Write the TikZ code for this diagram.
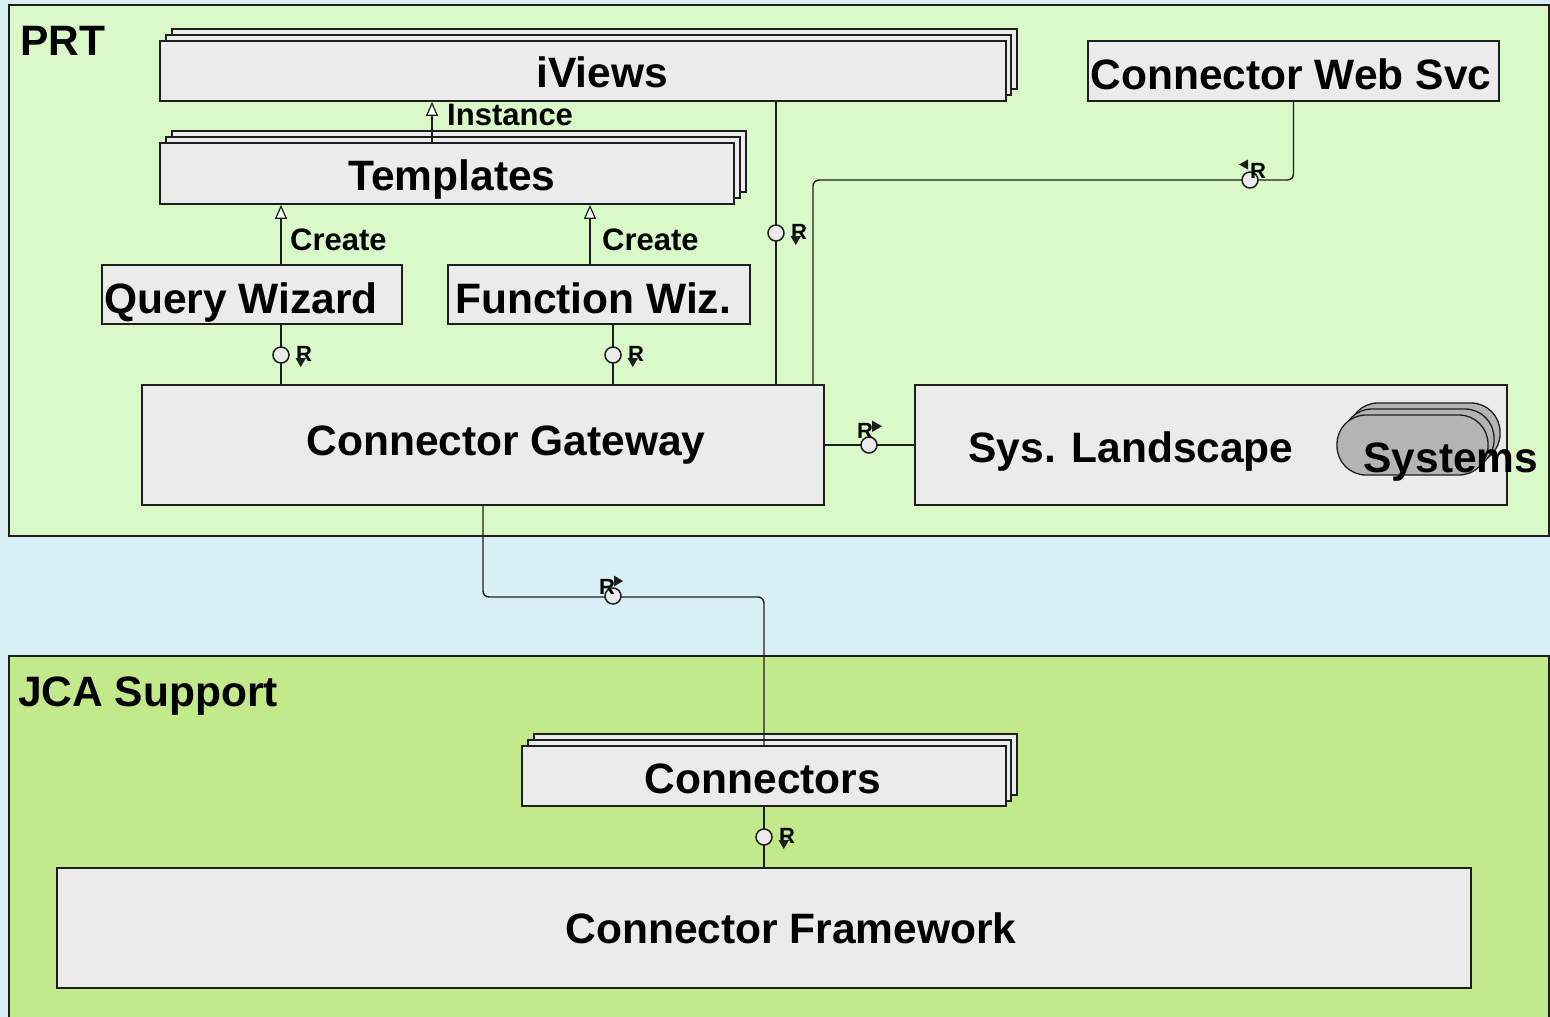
\documentclass[tikz,border=0pt]{standalone}
\usepackage{fontspec}
\setmainfont{Liberation Sans}
\usetikzlibrary{arrows.meta,calc}
\definecolor{bgblue}{RGB}{216,240,245}
\definecolor{prtgreen}{RGB}{217,249,201}
\definecolor{jcagreen}{RGB}{194,234,138}
\definecolor{boxgray}{RGB}{235,235,235}
\definecolor{sysgray}{RGB}{180,180,180}
\definecolor{edgec}{RGB}{30,30,30}
\newcommand{\rdown}[3]{%
  \node[rlab] (#1) at (#2+23,#3-1) {R};
  \fill[edgec] (#2+14.5,#3+3) -- (#2+25,#3+3) -- (#2+19.75,#3+12) -- cycle;}
\begin{document}
\begin{tikzpicture}[x=1pt,y=-1pt,
  panel/.style={draw=edgec, line width=1.3pt},
  box/.style={draw=edgec, line width=1.8pt, fill=boxgray, rectangle, inner sep=0pt},
  sysbox/.style={draw=edgec, line width=1.3pt, fill=sysgray, rounded corners=29pt},
  big/.style={font=\fontsize{42.5}{48}\selectfont\bfseries, inner sep=0pt, anchor=base},
  small/.style={font=\fontsize{31}{36}\selectfont\bfseries, inner sep=0pt, anchor=base west},
  rlab/.style={font=\fontsize{22}{22}\selectfont\bfseries, inner sep=0pt},
  conn/.style={draw=edgec, line width=1.4pt},
  iface/.style={circle, draw=edgec, line width=1.5pt, fill=boxgray, minimum size=16pt, inner sep=0pt},
  gen/.style={conn, -{Triangle[length=14pt, width=12pt, fill=white, line width=1.2pt]}},
]
\useasboundingbox (0,0) rectangle (1550,1017);
\fill[bgblue] (0,0) rectangle (1550,1017);
% panels
\draw[panel, fill=prtgreen] (9,5) rectangle (1549,536);
\draw[panel, fill=jcagreen] (9,656) rectangle (1549,1025);
\node[big, anchor=base west] (prt) at (20,55) {PRT};
\node[big, anchor=base west] (jca) at (18,706) {JCA Support};

% iViews stack
\draw[box] (172,29) rectangle (1017,89);
\draw[box] (166,35) rectangle (1011,95);
\node[box, minimum width=846pt, minimum height=60pt] (iviews) at (583,71) {};
\node[big] (iviewsT) at (602,87) {iViews};
% Templates stack
\draw[box] (172,131) rectangle (746,192);
\draw[box] (166,137) rectangle (740,198);
\node[box, minimum width=574pt, minimum height=61pt] (tpl) at (447,173.5) {};
\node[big] (tplT) at (452,190) {Templates};
% Connector Web Svc
\node[box, minimum width=411pt, minimum height=60pt] (cws) at (1293.5,71) {};
\node[big] (cwsT) at (1291,89) {Connector Web Svc};
% Query Wizard, Function Wiz.
\node[box, minimum width=300pt, minimum height=59pt] (qw) at (252,294.5) {};
\node[big] (qwT) at (241,313) {Query Wizard};
\node[box, minimum width=302pt, minimum height=59pt] (fw) at (599,294.5) {};
\node[big] (fwT) at (593,313) {Function Wiz.};
% Connector Gateway
\node[box, minimum width=682pt, minimum height=120pt] (cg) at (483,445) {};
\node[big] (cgT) at (506,455) {Connector Gateway};
% Sys. Landscape
\node[box, minimum width=592pt, minimum height=120pt] (sl) at (1211,445) {};
\node[big] (slT) at (1131,462) {Sys. Landscape};
\draw[sysbox] (1349,403) rectangle (1500,463);
\draw[sysbox] (1343,409) rectangle (1494,469);
\node[sysbox, minimum width=151pt, minimum height=60pt, inner sep=0pt] (sys) at (1412.5,445) {};
\node[big] (sysT) at (1451,472) {Systems};
% Connectors stack
\draw[box] (534,734) rectangle (1017,795);
\draw[box] (528,740) rectangle (1011,801);
\node[box, minimum width=484pt, minimum height=60pt] (cons) at (764,776) {};
\node[big] (consT) at (763,793) {Connectors};
% Connector Framework
\node[box, minimum width=1414pt, minimum height=120pt] (cf) at (764,928) {};
\node[big] (cfT) at (791,943) {Connector Framework};

% generalisation arrows
\coordinate (a1) at (432,120);
\coordinate (a2) at (281,230);
\coordinate (a3) at (590,230);
\draw[gen] (tpl.north -| a1) -- (iviews.south -| a1);
\draw[gen] (qw.north -| a2) -- (tpl.south -| a2);
\draw[gen] (fw.north -| a3) -- (tpl.south -| a3);
\node[small] (inst) at (447,125) {Instance};
\node[small] (cr1) at (290,250) {Create};
\node[small] (cr2) at (602,250) {Create};

% interface circles
\coordinate (i1) at (281,355);
\coordinate (i2) at (613,355);
\coordinate (i3) at (776,233);
\coordinate (i4) at (1250,180);
\coordinate (i5) at (869,445);
\coordinate (i6) at (613,596);
\coordinate (i7) at (764,837);
\coordinate (c7) at (813,180);
\coordinate (c9) at (483,597);

\draw[conn] (qw.south -| i1) -- (cg.north -| i1);
\draw[conn] (fw.south -| i2) -- (cg.north -| i2);
\draw[conn] (iviews.south -| i3) -- (cg.north -| i3);
\draw[conn, rounded corners=6pt] (cws.south) |- (c7) -- (c7 |- cg.north);
\draw[conn] (cg.east) -- (sl.west);
\draw[conn, rounded corners=6pt] (cg.south) |- (c9 -| cons.north) -- (cons.north);
\draw[conn] (cons.south) -- (cf.north);

\node[iface] (o1) at (i1) {};
\node[iface] (o2) at (i2) {};
\node[iface] (o3) at (i3) {};
\node[iface] (o4) at (i4) {};
\node[iface] (o5) at (i5) {};
\node[iface] (o6) at (i6) {};
\node[iface] (o7) at (i7) {};

\rdown{r1}{281}{355}
\rdown{r2}{613}{355}
\rdown{r3}{776}{233}
\rdown{r7}{764}{837}
% R with left arrow (web svc)
\node[rlab] (r4) at (1258,171) {R};
\fill[edgec] (1248,159.5) -- (1248,169.5) -- (1239,164.5) -- cycle;
% R with right arrow (sys landscape)
\node[rlab] (r5) at (865,431) {R};
\fill[edgec] (872,420.5) -- (872,432) -- (882,426.25) -- cycle;
% R with right arrow (connectors)
\node[rlab] (r6) at (607,587) {R};
\fill[edgec] (614,575.5) -- (614,586.5) -- (623,581) -- cycle;
\end{tikzpicture}
\end{document}
